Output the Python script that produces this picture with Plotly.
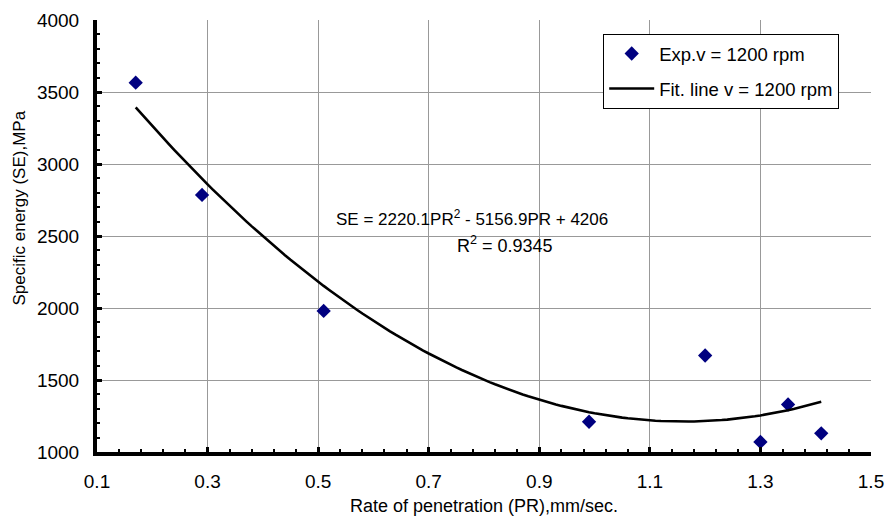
import numpy as np
import plotly.graph_objects as go

# Experimental measurements at v = 1200 rpm
pr_exp = [0.17, 0.29, 0.51, 0.99, 1.20, 1.30, 1.35, 1.41]
se_exp = [3565, 2785, 1980, 1210, 1670, 1070, 1330, 1130]

# Quadratic trend line coefficients (a*PR^2 + b*PR + c) and fit quality
fit_coef = [2220.1, -5156.9, 4206]
r_squared = 0.9345
fit_range = [0.17, 1.41]

x_ticks = [0.1, 0.3, 0.5, 0.7, 0.9, 1.1, 1.3, 1.5]
y_ticks = [1000, 1500, 2000, 2500, 3000, 3500, 4000]

pr_fit = np.linspace(fit_range[0], fit_range[1], 125)
se_fit = np.polyval(fit_coef, pr_fit)

FONT = "Liberation Sans, Arial, sans-serif"

fig = go.Figure()
fig.add_trace(go.Scatter(
    x=pr_exp, y=se_exp, mode="markers", name="Exp.v = 1200 rpm",
    legendgroup="exp",
    marker=dict(symbol="diamond", size=11, color="#000080"),
))
fig.add_trace(go.Scatter(
    x=pr_fit, y=se_fit, mode="lines", name="Fit. line v = 1200 rpm",
    legendgroup="fit",
    line=dict(color="black", width=2.6),
))

eq_text = (f"SE = {fit_coef[0]}PR<sup>2</sup> - {abs(fit_coef[1])}PR + {fit_coef[2]}")
fig.add_annotation(x=0.778, y=2625, xref="x", yref="y", text=eq_text,
                   showarrow=False, font=dict(family=FONT, size=17, color="black"))
fig.add_annotation(x=0.838, y=2440, xref="x", yref="y",
                   text=f"R<sup>2</sup> = {r_squared}",
                   showarrow=False, font=dict(family=FONT, size=18, color="black"))

# Vertical axis title
fig.add_annotation(x=-0.1, y=0.565, xref="paper", yref="paper",
                   text="Specific energy (SE),MPa", textangle=-90,
                   showarrow=False, xanchor="center", yanchor="middle",
                   font=dict(family=FONT, size=17, color="black"))

axis_common = dict(
    showline=True, linewidth=4, linecolor="black",
    showgrid=True, gridcolor="#999999", gridwidth=1,
    ticks="inside", ticklen=5, tickwidth=3, tickcolor="black",
    tickfont=dict(family=FONT, size=19, color="black"),
    zeroline=False, automargin=False,
)

fig.update_xaxes(
    range=[0.1, 1.5], tickvals=x_ticks, ticktext=[f"{v:.1f}" for v in x_ticks],
    minor=dict(ticks="inside", ticklen=3, tickwidth=2, tickcolor="black",
               dtick=0.04, tick0=0.1, showgrid=False),
    ticklabelstandoff=9,
    title=dict(text="Rate of penetration (PR),mm/sec.",
               font=dict(family=FONT, size=18, color="black"), standoff=11),
    **axis_common,
)
fig.update_yaxes(
    range=[1000, 4000], tickvals=y_ticks,
    minor=dict(ticks="inside", ticklen=3, tickwidth=2, tickcolor="black",
               dtick=100, tick0=1000, showgrid=False),
    ticklabelstandoff=10,
    **axis_common,
)

fig.update_layout(
    width=885, height=516,
    margin=dict(l=97, r=14, t=20, b=64),
    paper_bgcolor="white", plot_bgcolor="white",
    showlegend=True,
    legend=dict(x=0.654, y=0.9676, xanchor="left", yanchor="top",
                bgcolor="white", bordercolor="black", borderwidth=1,
                font=dict(family=FONT, size=18.5, color="black"),
                traceorder="grouped", tracegroupgap=8, itemwidth=45),
    font=dict(family=FONT, color="black"),
)

fig.write_html("out.html")
